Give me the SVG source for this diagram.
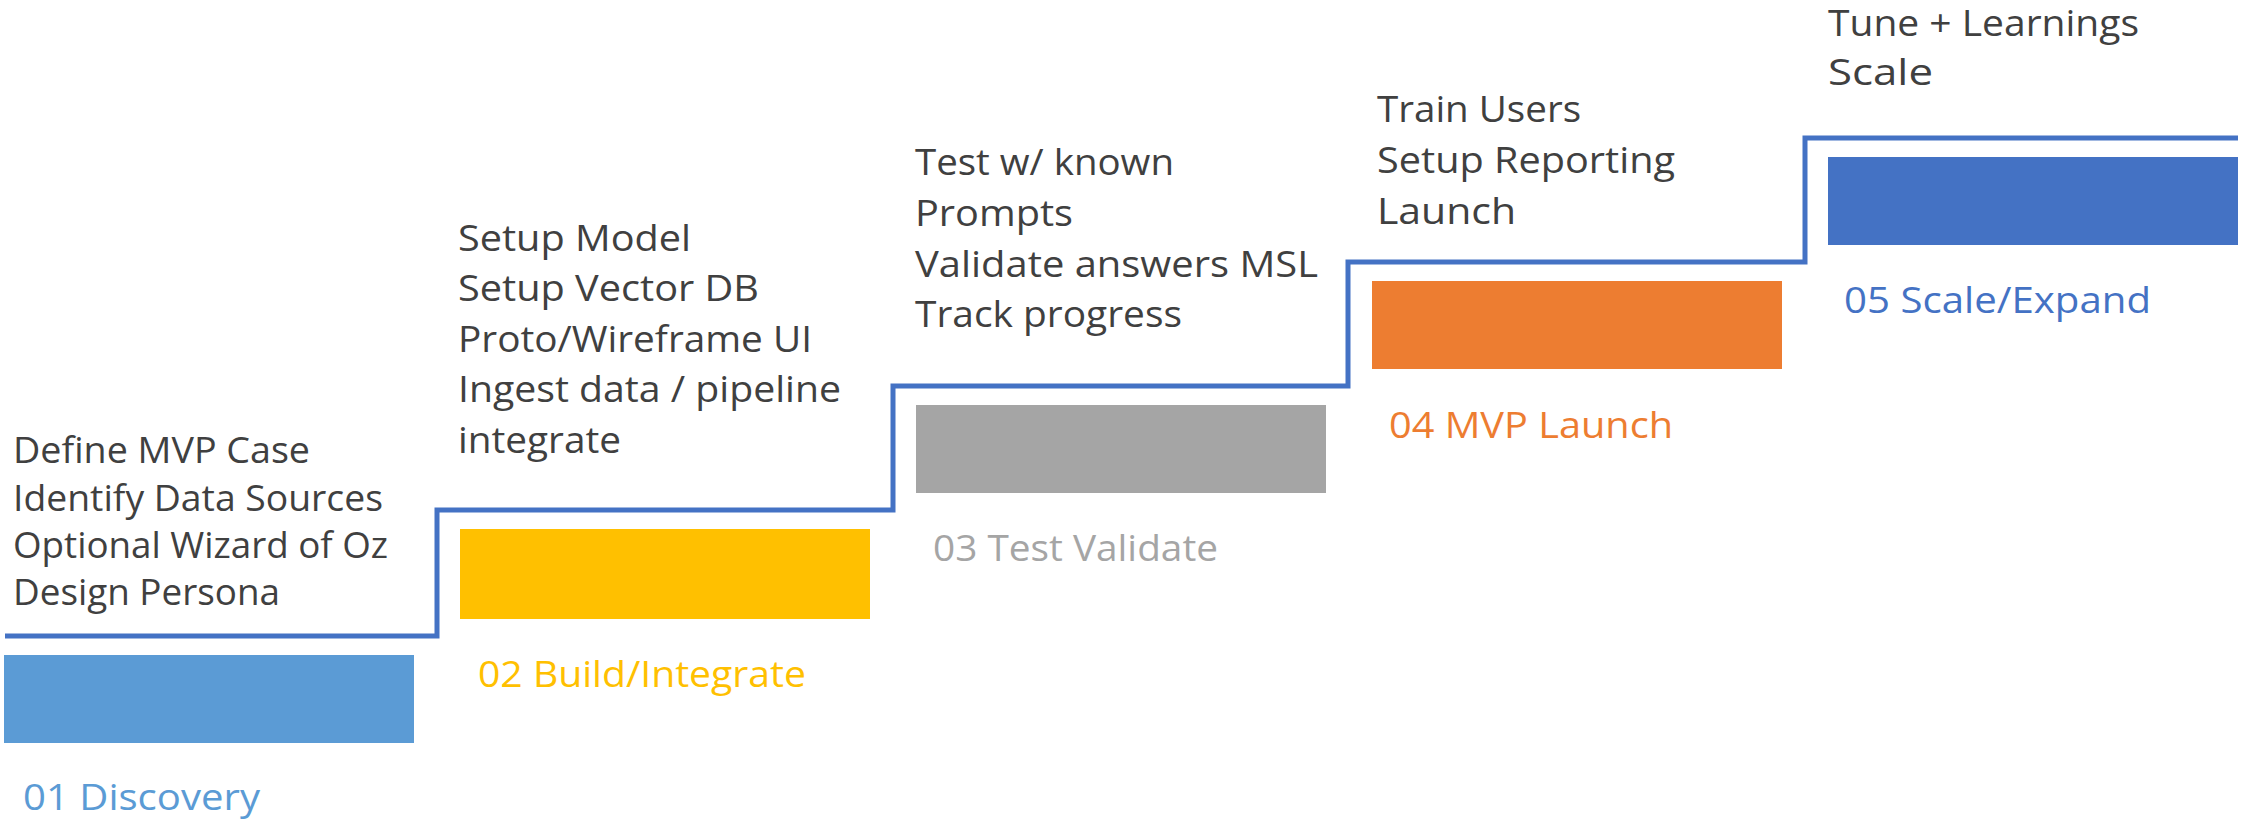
<svg xmlns="http://www.w3.org/2000/svg" width="2254" height="821" viewBox="0 0 2254 821">
<style>
.t{font-family:"Open Sans","Noto Sans",sans-serif;font-size:37px;fill:#404040}
.l{font-family:"Open Sans","Noto Sans",sans-serif;font-size:37px}
.step{fill:none;stroke:#4472C4;stroke-width:5;stroke-linejoin:miter}
</style>
<rect width="2254" height="821" fill="#ffffff"/>
<g id="connectors">
<path class="step" d="M5 636 H437 V510 H893 V386 H1348 V262 H1805 V138 H2238"/>
</g>
<g id="stage1">
<text class="t" x="13" y="463" textLength="297" lengthAdjust="spacingAndGlyphs">Define MVP Case</text>
<text class="t" x="13" y="511" textLength="370" lengthAdjust="spacingAndGlyphs">Identify Data Sources</text>
<text class="t" x="13" y="558" textLength="375" lengthAdjust="spacingAndGlyphs">Optional Wizard of Oz</text>
<text class="t" x="13" y="605" textLength="267" lengthAdjust="spacingAndGlyphs">Design Persona</text>
<rect x="4" y="655" width="410" height="88" fill="#5B9BD5"/>
<text class="l" x="23" y="810" fill="#5B9BD5" textLength="237" lengthAdjust="spacingAndGlyphs">01 Discovery</text>
</g>
<g id="stage2">
<text class="t" x="458" y="251" textLength="233" lengthAdjust="spacingAndGlyphs">Setup Model</text>
<text class="t" x="458" y="301" textLength="301" lengthAdjust="spacingAndGlyphs">Setup Vector DB</text>
<text class="t" x="458" y="352" textLength="354" lengthAdjust="spacingAndGlyphs">Proto/Wireframe UI</text>
<text class="t" x="458" y="402" textLength="383" lengthAdjust="spacingAndGlyphs">Ingest data / pipeline</text>
<text class="t" x="458" y="453" textLength="163" lengthAdjust="spacingAndGlyphs">integrate</text>
<rect x="460" y="529" width="410" height="90" fill="#FFC000"/>
<text class="l" x="478" y="687" fill="#FFC000" textLength="328" lengthAdjust="spacingAndGlyphs">02 Build/Integrate</text>
</g>
<g id="stage3">
<text class="t" x="915" y="175" textLength="259" lengthAdjust="spacingAndGlyphs">Test w/ known</text>
<text class="t" x="915" y="226" textLength="158" lengthAdjust="spacingAndGlyphs">Prompts</text>
<text class="t" x="915" y="277" textLength="403" lengthAdjust="spacingAndGlyphs">Validate answers MSL</text>
<text class="t" x="915" y="327" textLength="267" lengthAdjust="spacingAndGlyphs">Track progress</text>
<rect x="916" y="405" width="410" height="88" fill="#A5A5A5"/>
<text class="l" x="933" y="561" fill="#A5A5A5" textLength="285" lengthAdjust="spacingAndGlyphs">03 Test Validate</text>
</g>
<g id="stage4">
<text class="t" x="1377" y="122" textLength="204" lengthAdjust="spacingAndGlyphs">Train Users</text>
<text class="t" x="1377" y="173" textLength="298" lengthAdjust="spacingAndGlyphs">Setup Reporting</text>
<text class="t" x="1377" y="224" textLength="139" lengthAdjust="spacingAndGlyphs">Launch</text>
<rect x="1372" y="281" width="410" height="88" fill="#ED7D31"/>
<text class="l" x="1389" y="438" fill="#ED7D31" textLength="284" lengthAdjust="spacingAndGlyphs">04 MVP Launch</text>
</g>
<g id="stage5">
<text class="t" x="1828" y="36" textLength="311" lengthAdjust="spacingAndGlyphs">Tune + Learnings</text>
<text class="t" x="1828" y="85" textLength="105" lengthAdjust="spacingAndGlyphs">Scale</text>
<rect x="1828" y="157" width="410" height="88" fill="#4472C4"/>
<text class="l" x="1844" y="313" fill="#4472C4" textLength="307" lengthAdjust="spacingAndGlyphs">05 Scale/Expand</text>
</g>
</svg>
